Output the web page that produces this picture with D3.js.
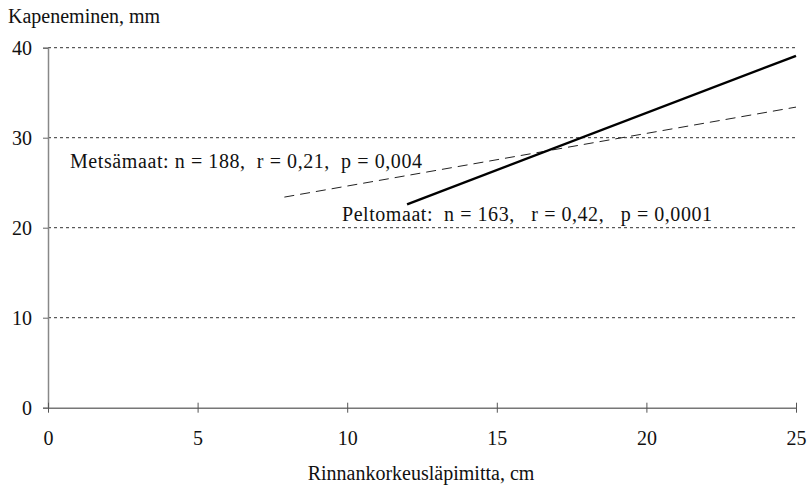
<!DOCTYPE html>
<html lang="fi">
<head>
<meta charset="UTF-8">
<title>Kapeneminen</title>
<script src="https://d3js.org/d3.v7.min.js"></script>
<style>
  body { margin: 0; background: #fff; }
  text { font-family: "Liberation Serif", "Times New Roman", serif; fill: #111; }
</style>
</head>
<body>
<script>
    // regression lines, x = diameter (cm), y = taper (mm)
    var peltoX = [12, 25];
    var peltoY = [22.6, 39.1];
    var metsaX = [7.9, 25];
    var metsaY = [23.4, 33.4];

    var xTicks = [0, 5, 10, 15, 20, 25];
    var yTicks = [0, 10, 20, 30, 40];

    var metsaLabel = "Metsämaat: n = 188,  r = 0,21,  p = 0,004";
    var peltoLabel = "Peltomaat:  n = 163,   r = 0,42,   p = 0,0001";

    var W = 807, H = 486;
    var svg = d3.select("body").append("svg")
        .attr("width", W)
        .attr("height", H);

    var x = d3.scaleLinear().domain([0, 25]).range([48, 796]);
    var y = d3.scaleLinear().domain([0, 40]).range([407.7, 47.7]);

    // grid
    svg.selectAll(".grid")
        .data(yTicks.filter(function (d) { return d > 0; }))
        .enter().append("line")
        .attr("x1", x(0)).attr("x2", x(25))
        .attr("y1", function (d) { return y(d); })
        .attr("y2", function (d) { return y(d); })
        .attr("stroke", "#333")
        .attr("stroke-width", 1)
        .attr("stroke-dasharray", "3,3");

    // y axis
    var yAxis = svg.append("g")
        .attr("transform", "translate(" + x(0) + ",0)")
        .call(d3.axisLeft(y).tickValues(yTicks).tickSize(5).tickPadding(11));
    yAxis.select(".domain").attr("stroke", "#888").attr("stroke-width", 1.5);
    yAxis.selectAll(".tick line").attr("stroke", "#666");
    yAxis.selectAll("text").style("font-size", "20px").attr("fill", "#111")
        .attr("font-family", "Liberation Serif");

    // x axis
    var xAxis = svg.append("g")
        .attr("transform", "translate(0," + y(0) + ")")
        .call(d3.axisBottom(x).tickValues(xTicks).tickSizeInner(5).tickSizeOuter(0).tickPadding(18));
    xAxis.select(".domain").attr("stroke", "#777").attr("stroke-width", 1.5);
    xAxis.selectAll(".tick line").attr("stroke", "#555").attr("y1", -5);
    xAxis.selectAll("text").style("font-size", "20px").attr("fill", "#111")
        .attr("font-family", "Liberation Serif");

    var line = d3.line()
        .x(function (d) { return x(d[0]); })
        .y(function (d) { return y(d[1]); });

    svg.append("path")
        .datum(d3.zip(metsaX, metsaY))
        .attr("d", line)
        .attr("fill", "none")
        .attr("stroke", "#222")
        .attr("stroke-width", 1)
        .attr("stroke-dasharray", "10,6");

    svg.append("path")
        .datum(d3.zip(peltoX, peltoY))
        .attr("d", line)
        .attr("fill", "none")
        .attr("stroke", "#000")
        .attr("stroke-width", 2.5);

    // labels
    svg.append("text")
        .attr("x", 8).attr("y", 23)
        .style("font-size", "20px")
        .text("Kapeneminen, mm");

    svg.append("text")
        .attr("x", 421).attr("y", 480)
        .attr("text-anchor", "middle")
        .style("font-size", "20px")
        .text("Rinnankorkeusläpimitta, cm");

    svg.append("text")
        .attr("x", 70).attr("y", 168)
        .style("font-size", "20px")
        .attr("xml:space", "preserve")
        .attr("textLength", 352)
        .text(metsaLabel);

    svg.append("text")
        .attr("x", 342).attr("y", 221)
        .style("font-size", "20px")
        .attr("xml:space", "preserve")
        .attr("textLength", 370)
        .text(peltoLabel);
</script>
</body>
</html>
